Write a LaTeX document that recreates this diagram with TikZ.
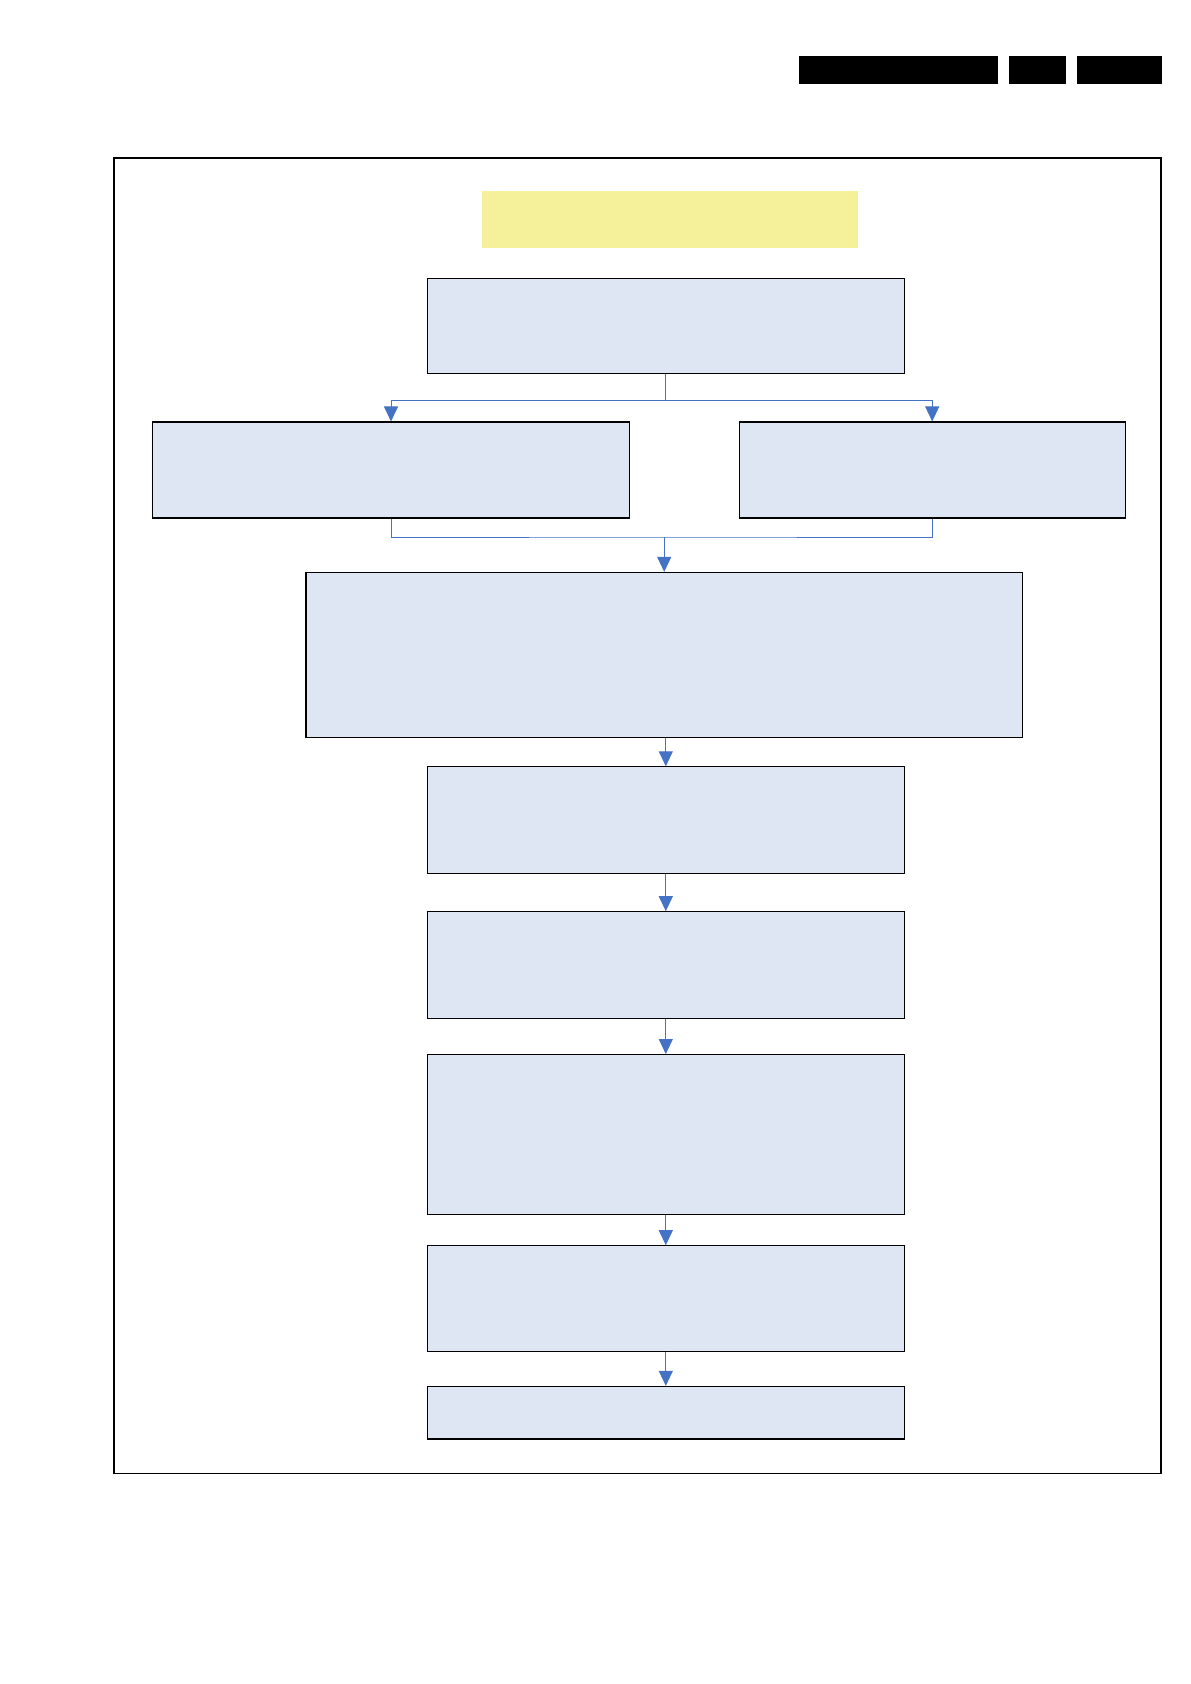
\documentclass[tikz,border=0pt]{standalone}
\usepackage{xcolor}
\definecolor{BoxFill}{RGB}{222,229,243}
\definecolor{LinkBlue}{RGB}{68,114,196}
\definecolor{TitleYellow}{RGB}{244,241,154}
\usepackage{tikz}
\usetikzlibrary{arrows.meta}

\begin{document}
\begin{tikzpicture}[x=1pt, y=-1pt,
    flowbox/.style={draw=black, line width=1.1pt, fill=BoxFill, inner sep=0pt},
    titlebox/.style={fill=TitleYellow, inner sep=0pt},
    link/.style={LinkBlue, line width=1pt, -{Triangle[length=15pt, width=14pt]}},
    joint/.style={LinkBlue, line width=1pt}]
    \useasboundingbox (0,0) rectangle (1191,1684);

    % --- Cabecera (barras negras) ---
    \fill[black] (799,55.7) rectangle (998,83.7);
    \fill[black] (1009,55.7) rectangle (1066,83.7);
    \fill[black] (1077,55.7) rectangle (1162,83.7);

    % --- Marco ---
    \draw[black, line width=1.6pt] (113.8,157.9) rectangle (1160.9,1473.4);

    % --- Titulo ---
    \node[titlebox, minimum width=376pt, minimum height=56.7pt] (title) at (669.7,219.6) {};

    % --- Cajas ---
    \node[flowbox, minimum width=477pt, minimum height=95pt] (start) at (665.8,325.7) {};
    \node[flowbox, minimum width=476.5pt, minimum height=96pt] (left) at (391,470) {};
    \node[flowbox, minimum width=386pt, minimum height=96pt] (right) at (932.2,470) {};
    \node[flowbox, minimum width=716.4pt, minimum height=165.4pt] (main) at (664.2,655.1) {};
    \node[flowbox, minimum width=477pt, minimum height=106.3pt] (stepa) at (665.8,820) {};
    \node[flowbox, minimum width=477pt, minimum height=106.3pt] (stepb) at (665.8,964.9) {};
    \node[flowbox, minimum width=477pt, minimum height=160pt] (stepc) at (665.8,1134.6) {};
    \node[flowbox, minimum width=477pt, minimum height=105.3pt] (stepd) at (665.8,1298.4) {};
    \node[flowbox, minimum width=477pt, minimum height=52.6pt] (stepe) at (665.8,1412.7) {};

    % --- Bifurcacion ---
    \draw[joint] (start.south) -- ++(0,27) coordinate (split);
    \draw[link] (split) -| (left.north);
    \draw[link] (split) -| (right.north);

    % --- Union ---
    \coordinate (merge) at (664.2,537);
    \draw[joint] (left.south) |- (merge) -| (right.south);
    \draw[link] (merge) -- (main.north);

    % --- Secuencia ---
    \draw[link] (main.south -| stepa.north) -- (stepa.north);
    \draw[link] (stepa.south) -- (stepb.north);
    \draw[link] (stepb.south) -- (stepc.north);
    \draw[link] (stepc.south) -- (stepd.north);
    \draw[link] (stepd.south) -- (stepe.north);

\end{tikzpicture}
\end{document}
